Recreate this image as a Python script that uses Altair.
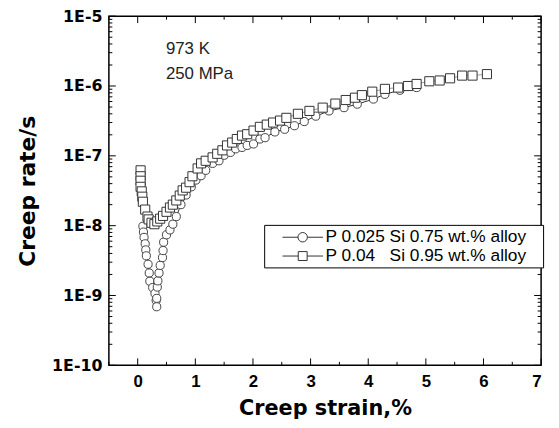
import altair as alt
import pandas as pd

# ---- data ----
strain_a = [0.09, 0.10, 0.11, 0.13, 0.14, 0.15, 0.18, 0.20, 0.21, 0.26, 0.30, 0.32, 0.33,
            0.33, 0.34, 0.35, 0.37, 0.39, 0.43, 0.44, 0.45, 0.50, 0.56, 0.61, 0.67, 0.75,
            0.84, 0.93, 1.01, 1.10, 1.18, 1.30, 1.41, 1.50, 1.61, 1.70, 1.81, 1.90, 2.01,
            2.12, 2.21, 2.38, 2.55, 2.72, 2.89, 3.09, 3.32, 3.58, 3.81, 4.09, 4.29, 4.55, 4.84]
rate_a = [9.8e-9, 8.1e-9, 6.8e-9, 5.5e-9, 4.5e-9, 3.7e-9, 2.8e-9, 2.1e-9, 1.6e-9, 1.3e-9,
          1.07e-9, 8.5e-10, 6.9e-10, 9.1e-10, 1.32e-9, 1.62e-9, 2.1e-9, 2.7e-9, 3.5e-9,
          4.4e-9, 5.8e-9, 7.4e-9, 8.7e-9, 1.05e-8, 1.35e-8, 2.0e-8, 2.75e-8, 3.6e-8, 4.5e-8,
          5.2e-8, 6.2e-8, 7.8e-8, 8.5e-8, 1.02e-7, 1.12e-7, 1.26e-7, 1.32e-7, 1.41e-7,
          1.48e-7, 1.74e-7, 1.82e-7, 2.2e-7, 2.4e-7, 2.7e-7, 3.1e-7, 3.7e-7, 4.4e-7, 4.9e-7,
          5.5e-7, 6.5e-7, 7.6e-7, 8.7e-7, 9.5e-7]

strain_b = [0.05, 0.05, 0.05, 0.05, 0.07, 0.08, 0.09, 0.13, 0.17, 0.19, 0.24, 0.29, 0.34,
            0.39, 0.44, 0.50, 0.56, 0.61, 0.67, 0.73, 0.78, 0.84, 0.90, 0.95, 1.04, 1.10,
            1.18, 1.30, 1.38, 1.47, 1.55, 1.64, 1.72, 1.81, 1.90, 2.01, 2.12, 2.24, 2.35,
            2.47, 2.58, 2.78, 2.98, 3.21, 3.43, 3.61, 3.77, 3.89, 4.07, 4.29, 4.52, 4.69,
            4.84, 5.06, 5.24, 5.42, 5.63, 5.81, 6.06]
rate_b = [6.2e-8, 5.1e-8, 4.4e-8, 3.6e-8, 3.1e-8, 2.6e-8, 2.2e-8, 1.7e-8, 1.35e-8, 1.23e-8,
          1.1e-8, 1.05e-8, 1.15e-8, 1.26e-8, 1.38e-8, 1.58e-8, 1.82e-8, 2.0e-8, 2.3e-8,
          2.7e-8, 3.2e-8, 3.5e-8, 4.2e-8, 5.1e-8, 6.6e-8, 7.8e-8, 8.5e-8, 9.5e-8, 1.07e-7,
          1.2e-7, 1.41e-7, 1.55e-7, 1.74e-7, 1.95e-7, 2.04e-7, 2.3e-7, 2.6e-7, 2.8e-7,
          3.0e-7, 3.2e-7, 3.5e-7, 4.0e-7, 4.4e-7, 4.9e-7, 5.6e-7, 6.3e-7, 6.8e-7, 7.4e-7,
          8.3e-7, 9.1e-7, 9.5e-7, 1.0e-6, 1.07e-6, 1.17e-6, 1.2e-6, 1.29e-6, 1.41e-6,
          1.41e-6, 1.48e-6]

# a trailing blank (U+2800) keeps some room at the right of the legend box
series_names = ["P 0.025 Si 0.75 wt.% alloy\u2800",
                "P 0.04\u00a0\u00a0\u00a0Si 0.95 wt.% alloy\u2800"]

x_labels = [0, 1, 2, 3, 4, 5, 6, 7]
x_minor = [-0.5, 0.5, 1.5, 2.5, 3.5, 4.5, 5.5, 6.5]
y_labels = [1e-10, 1e-9, 1e-8, 1e-7, 1e-6, 1e-5]
y_minor = [m * 10.0 ** e for e in range(-10, -5) for m in range(2, 10)]

ann_text = ["973 K", "250 MPa"]
ann_x = [0.49, 0.49]
ann_y = [3.4e-6, 1.5e-6]

# ---- tables ----
df_a = pd.DataFrame({"strain": strain_a, "rate": rate_a, "idx": range(len(strain_a)),
                     "series": series_names[0]})
df_b = pd.DataFrame({"strain": strain_b, "rate": rate_b, "idx": range(len(strain_b)),
                     "series": series_names[1]})
df_all = pd.concat([df_a, df_b], ignore_index=True)
df_ann = pd.DataFrame({"text": ann_text, "x": ann_x, "y": ann_y})

W, H = 437, 353
MAJ, MIN = 7, 3.5
xs = alt.Scale(domain=[-0.5, 7], nice=False, zero=False)
ys = alt.Scale(type="log", domain=[1e-10, 1e-5], nice=False)

x_main = alt.Axis(orient="bottom", values=x_labels, format="d", ticks=False, domain=False,
                  grid=False, labelFont="Liberation Sans", labelFontWeight="bold",
                  labelFontSize=17, labelColor="black", labelPadding=8,
                  title="Creep strain,%", titleFont="DejaVu Sans", titleFontWeight="bold",
                  titleFontSize=21, titleColor="black", titlePadding=9)
y_main = alt.Axis(orient="left", values=y_labels,
                  labelExpr="'1E' + round(log(datum.value)/LN10)",
                  ticks=False, domain=False, grid=False, labelFont="DejaVu Sans",
                  labelFontWeight="bold", labelFontSize=16, labelColor="black", labelPadding=7,
                  title="Creep rate/s", titleFont="DejaVu Sans", titleFontWeight="bold",
                  titleFontSize=22, titleColor="black", titlePadding=12)

X = lambda f: alt.X(f, scale=xs, axis=x_main)
Y = lambda f: alt.Y(f, scale=ys, axis=y_main)


# inward ticks on all four edges, placed through the scales
def x_ticks(values, length):
    base = alt.Chart(pd.DataFrame({"v": values})).mark_rule(color="black", strokeWidth=1)
    return [base.encode(x=X("v:Q"), y=alt.value(H), y2=alt.value(H - length)),
            base.encode(x=X("v:Q"), y=alt.value(0), y2=alt.value(length))]


def y_ticks(values, length):
    base = alt.Chart(pd.DataFrame({"v": values})).mark_rule(color="black", strokeWidth=1)
    return [base.encode(y=Y("v:Q"), x=alt.value(0), x2=alt.value(length)),
            base.encode(y=Y("v:Q"), x=alt.value(W), x2=alt.value(W - length))]


tick_layers = (x_ticks(x_labels, MAJ) + x_ticks(x_minor, MIN) +
               y_ticks(y_labels, MAJ) + y_ticks(y_minor, MIN))

line_a = alt.Chart(df_a).mark_line(color="#333333", strokeWidth=1).encode(
    x=X("strain:Q"), y=Y("rate:Q"), order="idx:Q")
pts_a = alt.Chart(df_a).mark_point(shape="circle", size=68, filled=False, fill="white",
                                   fillOpacity=1, stroke="#444444", strokeWidth=1,
                                   opacity=1).encode(x=X("strain:Q"), y=Y("rate:Q"))
line_b = alt.Chart(df_b).mark_line(color="#9a9a9a", strokeWidth=1).encode(
    x=X("strain:Q"), y=Y("rate:Q"), order="idx:Q")
pts_b = alt.Chart(df_b).mark_point(shape="square", size=85, filled=False, fill="white",
                                   fillOpacity=1, stroke="#333333", strokeWidth=1,
                                   opacity=1).encode(x=X("strain:Q"), y=Y("rate:Q"))

# legend symbols "-o-" and "-[]-" (unit = 9 px for symbolSize 324)
path_c = ("M0.67,0L2.41,0M3.47,0L5.22,0"
          "M2.41,0A0.53,0.53,0,1,1,3.47,0A0.53,0.53,0,1,1,2.41,0Z")
path_s = "M0.67,0L2.44,0M3.44,0L5.22,0M2.44,-0.5L3.44,-0.5L3.44,0.5L2.44,0.5Z"

legend_layer = alt.Chart(df_all).mark_point(opacity=0, filled=False).encode(
    x=X("strain:Q"), y=Y("rate:Q"),
    shape=alt.Shape("series:N", scale=alt.Scale(domain=series_names, range=[path_c, path_s]),
                    legend=alt.Legend(title=None, orient="none", legendX=157, legendY=211,
                                      strokeColor="black", fillColor="white", padding=3,
                                      symbolSize=324, symbolOpacity=1,
                                      symbolStrokeColor="#333333", symbolStrokeWidth=1,
                                      symbolFillColor="white",
                                      labelFont="Liberation Sans", labelFontSize=17.5,
                                      labelColor="black", labelOffset=40, rowPadding=1,
                                      labelLimit=400)))

ann = alt.Chart(df_ann).mark_text(align="left", baseline="middle", font="Liberation Sans",
                                  fontSize=17, color="#222222").encode(
    x=X("x:Q"), y=Y("y:Q"), text="text:N")

chart = alt.layer(line_a, pts_a, line_b, pts_b, legend_layer, ann, *tick_layers).properties(
    width=W, height=H,
    autosize=alt.AutoSizeParams(type="none"),
    padding={"left": 102, "top": 6, "right": 10, "bottom": 53},
    background="white",
).configure_view(stroke="black", strokeWidth=1.5)

chart.save("out.html", embed_options={"renderer": "svg", "actions": False})
